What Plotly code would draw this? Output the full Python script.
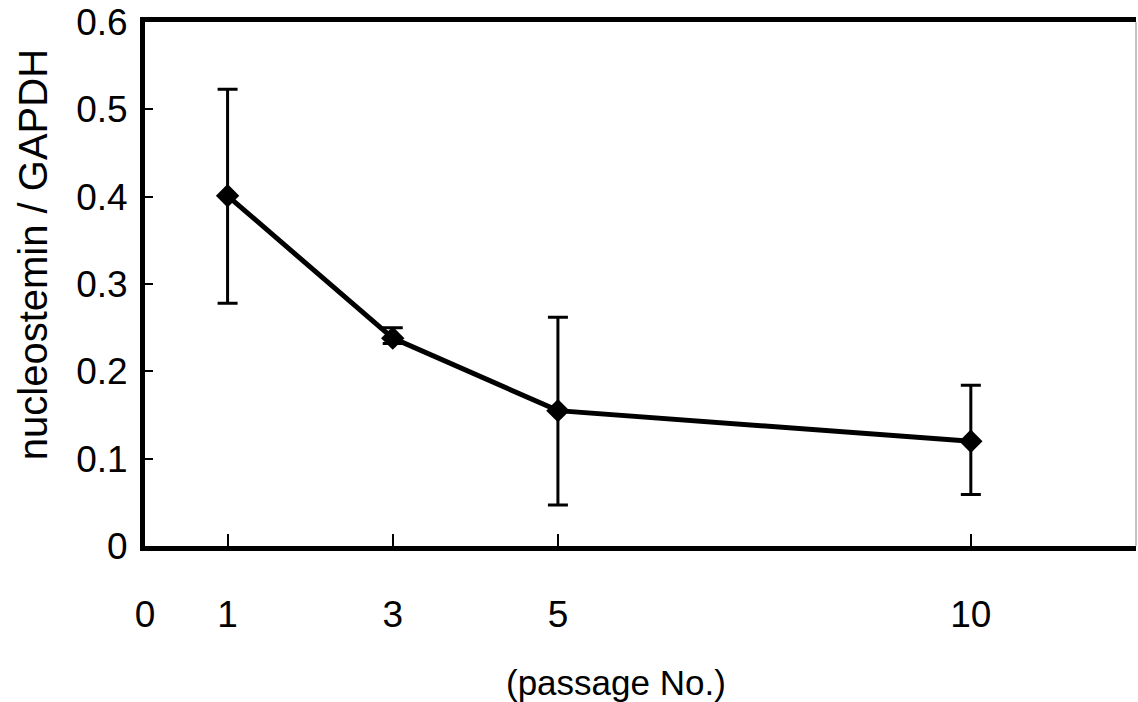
import plotly.graph_objects as go

# Data
passage = [1, 3, 5, 10]
ratio = [0.401, 0.238, 0.155, 0.120]
err_upper = [0.523, 0.250, 0.262, 0.184]
err_lower = [0.278, 0.232, 0.047, 0.059]

x_tickvals = [0, 1, 3, 5, 10]
x_ticktext = ["0", "1", "3", "5", "10"]
y_tickvals = [0, 0.1, 0.2, 0.3, 0.4, 0.5, 0.6]
y_ticktext = ["0", "0.1", "0.2", "0.3", "0.4", "0.5", "0.6"]

plus = [u - v for u, v in zip(err_upper, ratio)]
minus = [v - l for v, l in zip(ratio, err_lower)]

FONT = "Liberation Sans, Arial, sans-serif"

fig = go.Figure()
fig.add_trace(go.Scatter(
    x=passage, y=ratio,
    mode="lines+markers",
    line=dict(color="black", width=5),
    marker=dict(symbol="diamond", size=18, color="black"),
    error_y=dict(type="data", symmetric=False, array=plus, arrayminus=minus,
                 color="black", thickness=3, width=10),
    showlegend=False,
))

fig.update_layout(
    width=1138, height=702,
    margin=dict(l=145, r=2, t=22, b=156),
    paper_bgcolor="white", plot_bgcolor="white",
    font=dict(family=FONT, color="black", size=37),
    xaxis=dict(
        range=[0, 12], tickvals=x_tickvals, ticktext=x_ticktext,
        showgrid=False, zeroline=False,
        showline=True, linecolor="black", linewidth=5, mirror=True,
        ticks="inside", ticklen=12, tickwidth=2, tickcolor="black",
        ticklabelstandoff=32,
        tickfont=dict(size=37, family=FONT),
    ),
    yaxis=dict(
        range=[0, 0.6], tickvals=y_tickvals, ticktext=y_ticktext,
        showgrid=False, zeroline=False,
        showline=True, linecolor="black", linewidth=5,
        ticks="inside", ticklen=8, tickwidth=2, tickcolor="black",
        ticklabelstandoff=5,
        tickfont=dict(size=37, family=FONT),
    ),
    shapes=[dict(type="line", xref="paper", yref="paper", x0=1, x1=1, y0=0, y1=1,
                 line=dict(color="#888888", width=1))],
    annotations=[
        dict(text="nucleostemin / GAPDH", xref="paper", yref="paper",
             x=-0.113, y=0.555, xanchor="center", yanchor="middle",
             textangle=-90, showarrow=False, font=dict(size=40, family=FONT)),
        dict(text="(passage No.)", xref="paper", yref="paper",
             x=0.475, y=-0.26, xanchor="center", yanchor="middle",
             showarrow=False, font=dict(size=35, family=FONT)),
    ],
)

fig.write_html("out.html")
